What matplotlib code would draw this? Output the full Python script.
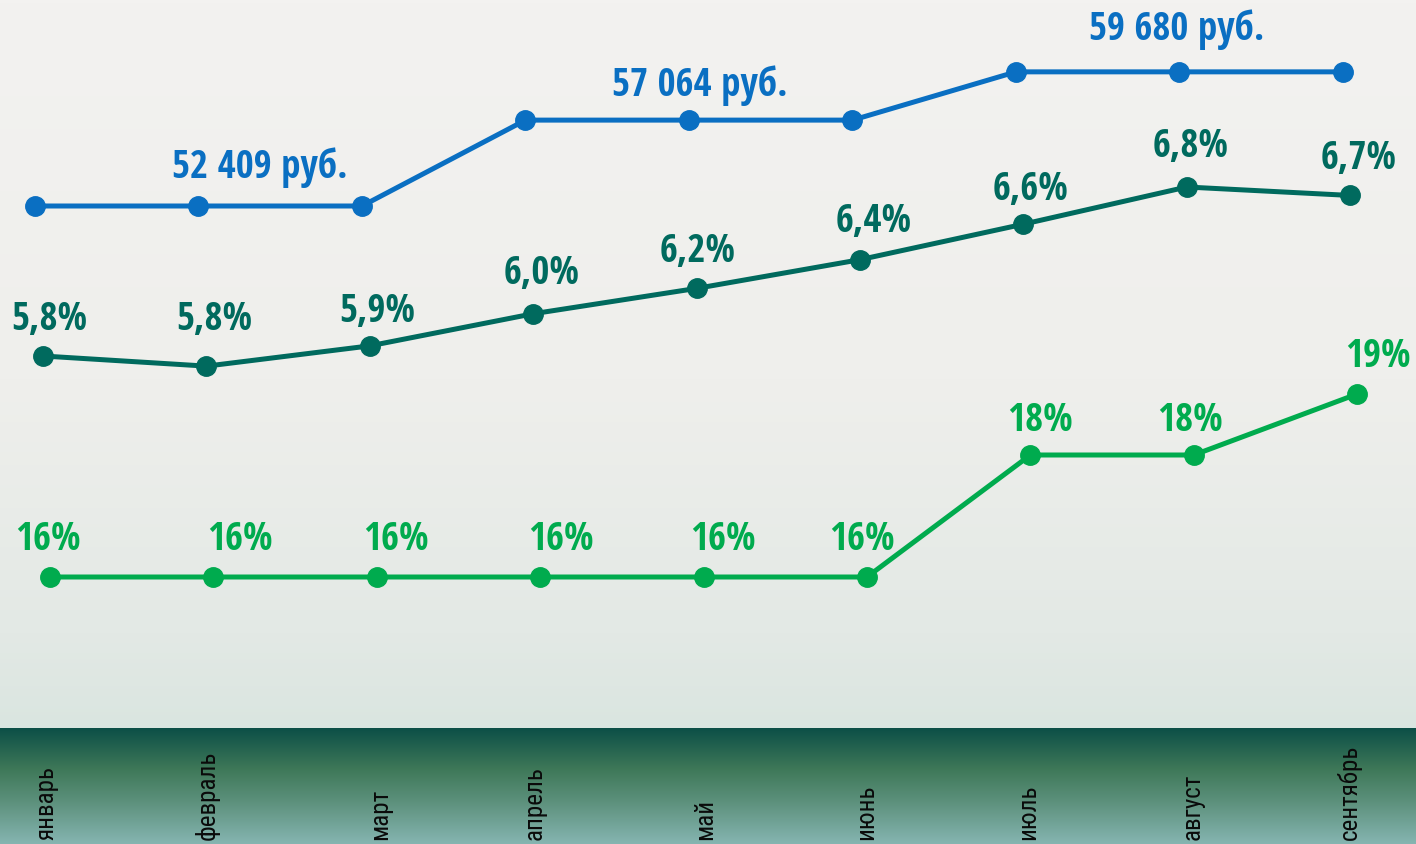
import numpy as np
import matplotlib
matplotlib.use("Agg")
import matplotlib.pyplot as plt
from matplotlib.colors import LinearSegmentedColormap

# data
months = ["январь", "февраль", "март", "апрель", "май", "июнь", "июль", "август", "сентябрь"]

salary = [52409, 52409, 52409, 57064, 57064, 57064, 59680, 59680, 59680]
salary_labels = {1: "52 409 руб.", 4: "57 064 руб.", 7: "59 680 руб."}

rate = [5.80, 5.74, 5.86, 6.05, 6.20, 6.37, 6.58, 6.80, 6.75]
rate_labels = ["5,8%", "5,8%", "5,9%", "6,0%", "6,2%", "6,4%", "6,6%", "6,8%", "6,7%"]

key = [16, 16, 16, 16, 16, 16, 18, 18, 19]
key_labels = ["16%", "16%", "16%", "16%", "16%", "16%", "18%", "18%", "19%"]

# label offsets in pixels (dx, dy up)
salary_off = {1: (61, 38), 4: (11, 34), 7: (-3, 42)}
rate_off = [(6, 36), (8, 46), (7, 34), (8, 40), (1, 36), (14, 38), (7, 34), (4, 40), (8, 36)]
key_off = [(-2, 37), (27, 37), (19, 37), (21, 37), (19, 37), (-5, 37), (10, 34), (-4, 34), (21, 37)]

W, H = 1416, 844
BAND = 116
FONT = ["Open Sans Condensed", "Roboto Condensed", "Roboto", "DejaVu Sans"]
FONT_MONTH = ["Roboto Condensed", "Liberation Sans Narrow", "Roboto", "DejaVu Sans"]

BLUE = "#0a6fc2"
TEAL = "#006a5e"
GREEN = "#00ab4e"

fig = plt.figure(figsize=(W / 100, H / 100), dpi=100)

# background
bg = fig.add_axes([0, 0, 1, 1])
bg.axis("off")
bg_cmap = LinearSegmentedColormap.from_list("bg", [(0, "#f3f2f0"), (0.45, "#efefec"), (0.75, "#e3e9e5"), (1, "#cfe1da")])
bg.imshow(np.linspace(0, 1, 256).reshape(-1, 1), aspect="auto", cmap=bg_cmap, extent=[0, 1, 0, 1])
bg.set_xlim(0, 1)
bg.set_ylim(0, 1)

# bottom band
band = fig.add_axes([0, 0, 1, BAND / H])
band.axis("off")
band_cmap = LinearSegmentedColormap.from_list("band", [(0, "#0c4f47"), (0.35, "#3e7858"), (0.65, "#5e927e"), (1, "#86b5b1")])
band.imshow(np.linspace(0, 1, 256).reshape(-1, 1), aspect="auto", cmap=band_cmap, extent=[0, 1, 0, 1])
band.set_xlim(0, 1)
band.set_ylim(0, 1)


def series_axes(x0_px, step_px, v_ref, y_ref_px, px_per_unit):
    ax = fig.add_axes([0, 0, 1, 1])
    ax.patch.set_alpha(0)
    ax.axis("off")
    ax.set_xlim(-x0_px / step_px, (W - x0_px) / step_px)
    ax.set_ylim(v_ref - (H - y_ref_px) / px_per_unit, v_ref + y_ref_px / px_per_unit)
    return ax


def label(ax, txt, xy, off, color):
    ax.annotate(txt, xy, xytext=off, textcoords="offset pixels", ha="center", va="center",
                color=color, fontsize=28, fontweight="bold", family=FONT)


x = np.arange(len(months))

# salary
ax1 = series_axes(35, 163.5, 52409, 206, 1 / 54.2)
ax1.plot(x, salary, color=BLUE, lw=3.6, marker="o", ms=14)
for i, t in salary_labels.items():
    label(ax1, t, (x[i], salary[i]), salary_off[i], BLUE)

# rate
ax2 = series_axes(43, 163.4, 5.8, 356, 169)
ax2.plot(x, rate, color=TEAL, lw=3.6, marker="o", ms=14)
for i, t in enumerate(rate_labels):
    label(ax2, t, (x[i], rate[i]), rate_off[i], TEAL)

# key rate
ax3 = series_axes(50, 163.4, 16, 577, 61)
ax3.plot(x, key, color=GREEN, lw=3.6, marker="o", ms=14)
for i, t in enumerate(key_labels):
    label(ax3, t, (x[i], key[i]), key_off[i], GREEN)

# month names
month_x = [46, 207, 380, 535, 705, 866, 1028, 1193, 1349]
for m, px in zip(months, month_x):
    fig.text(px / W, 4 / H, m, rotation=90, ha="center", va="bottom", fontsize=18,
             color="#0a0a0a", family=FONT_MONTH)

fig.savefig("out.png", dpi=100)
